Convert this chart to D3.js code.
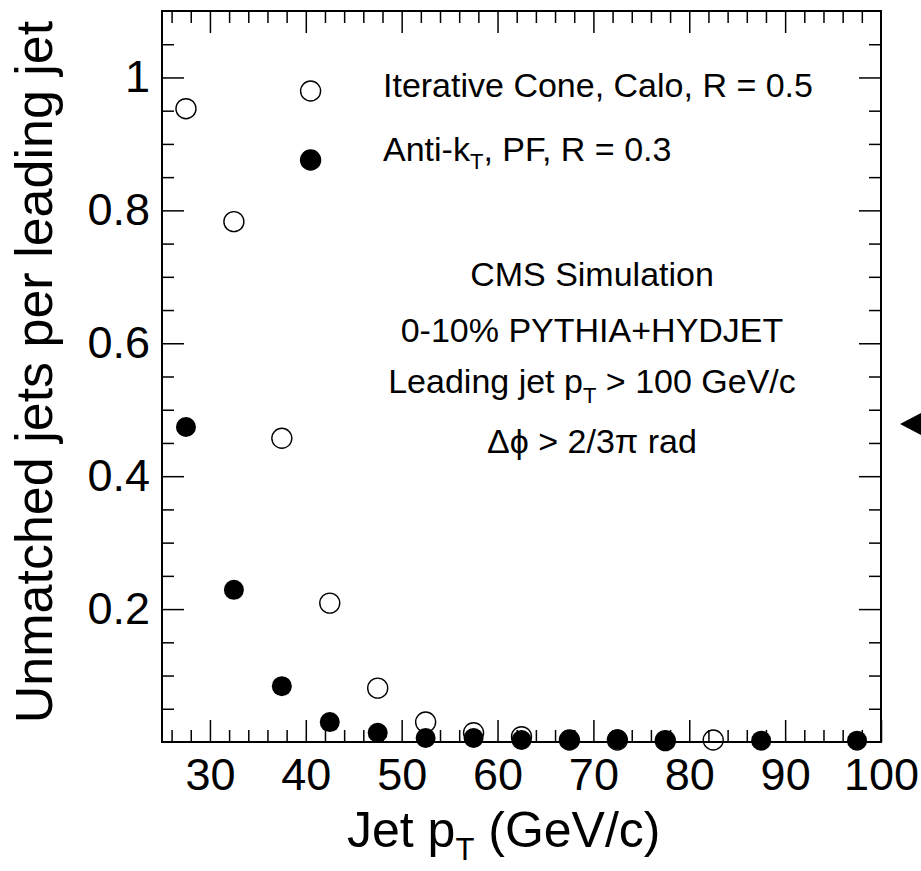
<!DOCTYPE html>
<html>
<head>
<meta charset="utf-8">
<script src="https://cdn.jsdelivr.net/npm/d3@7"></script>
<style>
  body { margin: 0; background: #fff; }
  svg { display: block; font-family: "Liberation Sans", Arial, Helvetica, sans-serif; }
</style>
</head>
<body>
<svg id="chart" width="921" height="871"></svg>
<script>
// bin centres (GeV/c) and unmatched-jet fractions
const coneX = [27.5, 32.5, 37.5, 42.5, 47.5, 52.5, 57.5, 62.5, 67.5, 72.5, 77.5, 82.5];
const coneY = [0.953, 0.783, 0.457, 0.209, 0.081, 0.030, 0.014, 0.008, 0.003, 0.003, 0.002, 0.003];
const aktX = [27.5, 32.5, 37.5, 42.5, 47.5, 52.5, 57.5, 62.5, 67.5, 72.5, 77.5, 87.5, 97.5];
const aktY = [0.474, 0.229, 0.084, 0.030, 0.014, 0.006, 0.006, 0.003, 0.003, 0.004, 0.002, 0.002, 0.002];

const xMajor = [30, 40, 50, 60, 70, 80, 90, 100];
const xMinor = d3.range(26, 100, 2).filter(d => d % 10 !== 0);
const yMajor = [0.2, 0.4, 0.6, 0.8, 1.0];
const yMinor = [0.05, 0.1, 0.15, 0.25, 0.3, 0.35, 0.45, 0.5, 0.55, 0.65, 0.7, 0.75, 0.85, 0.9, 0.95, 1.05];

const legendItems = [
  { label: "Iterative Cone, Calo, R = 0.5", open: true },
  { label: "Anti-k", sub: "T", rest: ", PF, R = 0.3", open: false }
];

const margin = { left: 162, top: 11, right: 40, bottom: 129 };
const width = 921, height = 871;
const plotW = width - margin.left - margin.right;
const plotH = height - margin.top - margin.bottom;

const svg = d3.select("#chart");
const g = svg.append("g").attr("transform", `translate(${margin.left},${margin.top})`);

const x = d3.scaleLinear().domain([25, 100]).range([0, plotW]);
const y = d3.scaleLinear().domain([0, 1.1]).range([plotH, 0]);

// ticks, ROOT style: pointing inward, mirrored on all four sides
function styleAxis(sel) {
  sel.select(".domain").remove();
  sel.selectAll(".tick line").attr("stroke", "#000").attr("stroke-width", 1.5);
  sel.selectAll(".tick text").attr("fill", "#000").attr("font-size", 45);
}

g.append("g").attr("transform", `translate(0,${plotH})`)
  .call(d3.axisBottom(x).tickValues(xMinor).tickSize(-12).tickFormat("")).call(styleAxis);
g.append("g").attr("transform", `translate(0,${plotH})`)
  .call(d3.axisBottom(x).tickValues(xMajor).tickSize(-22).tickPadding(16).tickFormat(d3.format("d")))
  .call(styleAxis);
g.append("g")
  .call(d3.axisTop(x).tickValues(xMinor).tickSize(-12).tickFormat("")).call(styleAxis);
g.append("g")
  .call(d3.axisTop(x).tickValues(xMajor.filter(d => d < 100)).tickSize(-22).tickFormat("")).call(styleAxis);

g.append("g")
  .call(d3.axisLeft(y).tickValues(yMinor).tickSize(-12).tickFormat("")).call(styleAxis);
g.append("g")
  .call(d3.axisLeft(y).tickValues(yMajor).tickSize(-22).tickPadding(12).tickFormat(d3.format("~g")))
  .call(styleAxis);
g.append("g").attr("transform", `translate(${plotW},0)`)
  .call(d3.axisRight(y).tickValues(yMinor).tickSize(-12).tickFormat("")).call(styleAxis);
g.append("g").attr("transform", `translate(${plotW},0)`)
  .call(d3.axisRight(y).tickValues(yMajor).tickSize(-22).tickFormat("")).call(styleAxis);

// frame
g.append("rect")
  .attr("width", plotW).attr("height", plotH)
  .attr("fill", "none").attr("stroke", "#000").attr("stroke-width", 2);

// data points
g.selectAll(".akt").data(d3.zip(aktX, aktY)).join("circle")
  .attr("class", "akt")
  .attr("cx", d => x(d[0])).attr("cy", d => y(d[1]))
  .attr("r", 10).attr("fill", "#000");

g.selectAll(".cone").data(d3.zip(coneX, coneY)).join("circle")
  .attr("class", "cone")
  .attr("cx", d => x(d[0])).attr("cy", d => y(d[1]))
  .attr("r", 10).attr("fill", "none").attr("stroke", "#000").attr("stroke-width", 1.4);

// legend
const legend = g.append("g");
legendItems.forEach((item, i) => {
  const ly = 80 + i * 69;
  legend.append("circle")
    .attr("cx", x(40.5)).attr("cy", ly)
    .attr("r", 10)
    .attr("fill", item.open ? "none" : "#000")
    .attr("stroke", "#000").attr("stroke-width", 1.4);
  const t = legend.append("text")
    .attr("x", 221).attr("y", ly + 6 + (i === 0 ? 0 : -5))
    .attr("font-size", 34).attr("fill", "#000");
  t.append("tspan").text(item.label);
  if (item.sub) {
    t.append("tspan").attr("font-size", 22).attr("dy", 8).text(item.sub);
    t.append("tspan").attr("dy", -8).text(item.rest);
  }
});

// annotation block
const notes = g.append("g").attr("font-size", 34).attr("text-anchor", "middle").attr("fill", "#000");
notes.append("text").attr("x", 430).attr("y", 275).text("CMS Simulation");
notes.append("text").attr("x", 430).attr("y", 331).text("0-10% PYTHIA+HYDJET");
const lead = notes.append("text").attr("x", 430).attr("y", 382);
lead.append("tspan").text("Leading jet p");
lead.append("tspan").attr("font-size", 22).attr("dy", 10).text("T");
lead.append("tspan").attr("dy", -10).text(" > 100 GeV/c");
notes.append("text").attr("x", 430).attr("y", 442).text("\u0394\u03d5 > 2/3\u03c0 rad");

// axis titles
const xt = svg.append("text")
  .attr("x", 347).attr("y", 847)
  .attr("font-size", 50).attr("fill", "#000");
xt.append("tspan").text("Jet p");
xt.append("tspan").attr("font-size", 31).attr("dy", 13).text("T");
xt.append("tspan").attr("dy", -13).text(" (GeV/c)");

svg.append("text")
  .attr("transform", "translate(52,372) rotate(-90)")
  .attr("text-anchor", "middle")
  .attr("font-size", 52).attr("fill", "#000")
  .text("Unmatched jets per leading jet");

// arrow marker cut by the right edge
svg.append("path")
  .attr("d", d3.line()([[900, 424], [925, 411], [925, 437]]) + "Z")
  .attr("fill", "#000");
</script>
</body>
</html>
